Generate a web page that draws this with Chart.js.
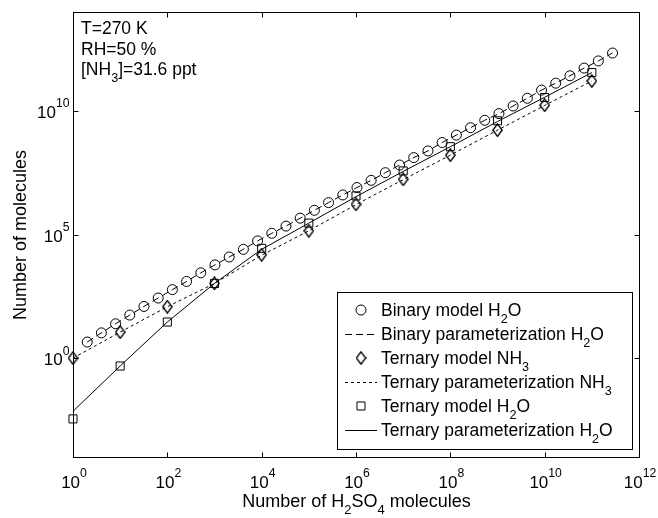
<!DOCTYPE html>
<html>
<head>
<meta charset="utf-8">
<title>Cluster composition</title>
<script src="https://cdn.jsdelivr.net/npm/chart.js@4.4.1/dist/chart.umd.min.js"></script>
<style>
  html, body { margin: 0; padding: 0; background: #fff; }
  #wrap { width: 658px; height: 518px; }
</style>
</head>
<body>
<div id="wrap"><canvas id="clusterChart" width="658" height="518"></canvas></div>
<script>
// values
const binaryX = [2, 4, 8, 16, 32, 64, 128, 256, 512, 1024, 2048, 4096, 8192, 16384, 32768,
    65536, 131072, 262144, 524288, 1048576, 2097152, 4194304, 8388608, 16777216, 33554432,
    67108864, 134217728, 268435456, 536870912, 1073741824, 2147483648, 4294967296,
    8589934592, 17179869184, 34359738368, 68719476736, 137438953472, 274877906944];
const binaryModelH2O = [4.47, 10.5, 24.5, 55, 123, 269, 589, 1.26e3, 2.82e3, 5.89e3, 1.23e4,
    2.51e4, 5.5e4, 1.12e5, 2.19e5, 4.57e5, 9.55e5, 1.95e6, 3.98e6, 7.94e6, 1.55e7, 3.16e7,
    6.46e7, 1.29e8, 2.4e8, 5.25e8, 1.05e9, 2.09e9, 4.17e9, 7.76e9, 1.58e10, 3.24e10, 6.92e10,
    1.32e11, 2.63e11, 5.37e11, 1.05e12, 2.19e12];
const binaryParamH2O = [4.47, 10.5, 24.5, 55, 123, 269, 589, 1.26e3, 2.82e3, 5.89e3, 1.23e4,
    2.51e4, 5.5e4, 1.12e5, 2.19e5, 4.57e5, 9.55e5, 1.95e6, 3.98e6, 7.94e6, 1.55e7, 3.16e7,
    6.46e7, 1.29e8, 2.4e8, 5.25e8, 1.05e9, 2.09e9, 4.17e9, 7.76e9, 1.58e10, 3.24e10, 6.92e10,
    1.32e11, 2.63e11, 5.37e11, 1.05e12, 2.19e12];

const ternaryX = [1, 10, 100, 1e3, 1e4, 1e5, 1e6, 1e7, 1e8, 1e9, 1e10, 1e11];
const ternaryModelNH3 = [1, 11.2, 120, 1.05e3, 1.51e4, 1.41e5, 1.66e6, 1.7e7, 1.62e8, 1.66e9, 1.7e10, 1.62e11];
const ternaryParamNH3 = [1, 11.2, 120, 1.05e3, 1.45e4, 1.41e5, 1.62e6, 1.66e7, 1.62e8, 1.66e9, 1.66e10, 1.62e11];
const ternaryModelH2O = [3.47e-3, 0.479, 28.8, 1.05e3, 2.75e4, 2.88e5, 3.63e6, 3.72e7, 3.55e8, 3.98e9, 3.47e10, 3.55e11];
const ternaryParamH2O = [7.08e-3, 0.479, 28.8, 1.05e3, 2.51e4, 2.88e5, 3.39e6, 3.55e7, 3.55e8, 3.72e9, 3.55e10, 3.55e11];

const xTicks = [1e0, 1e2, 1e4, 1e6, 1e8, 1e10, 1e12];
const xTickLabels = ['10^{0}', '10^{2}', '10^{4}', '10^{6}', '10^{8}', '10^{10}', '10^{12}'];
const yTicks = [1e0, 1e5, 1e10];
const yTickLabels = ['10^{0}', '10^{5}', '10^{10}'];
const infoLines = ['T=270 K', 'RH=50 %', '[NH_{3}]=31.6 ppt'];

const FONT = '"Liberation Sans", Arial, Helvetica, sans-serif';

function pairs(xs, ys) {
    return xs.map((x, i) => ({ x: x, y: ys[i] }));
}

function makeDiamond(w, h) {
    const c = document.createElement('canvas');
    c.width = w;
    c.height = h;
    const g = c.getContext('2d');
    g.strokeStyle = '#000';
    g.lineWidth = 1.4;
    g.beginPath();
    g.moveTo(w / 2, 0.8);
    g.lineTo(w - 0.8, h / 2);
    g.lineTo(w / 2, h - 0.8);
    g.lineTo(0.8, h / 2);
    g.closePath();
    g.stroke();
    return c;
}

// text with _{sub} and ^{sup} parts
function drawRich(ctx, text, x, y, size, align) {
    const parts = text.split(/(_\{[^}]*\}|\^\{[^}]*\})/).filter(s => s.length);
    const segs = parts.map(p => {
        if (p[0] === '_') return { t: p.slice(2, -1), s: size * 0.72, dy: size * 0.38 };
        if (p[0] === '^') return { t: p.slice(2, -1), s: size * 0.72, dy: -size * 0.62 };
        return { t: p, s: size, dy: 0 };
    });
    let total = 0;
    segs.forEach(seg => {
        ctx.font = seg.s + 'px ' + FONT;
        seg.w = ctx.measureText(seg.t).width;
        total += seg.w;
    });
    let cx = x;
    if (align === 'center') cx = x - total / 2;
    if (align === 'right') cx = x - total;
    ctx.textAlign = 'left';
    ctx.textBaseline = 'alphabetic';
    segs.forEach(seg => {
        ctx.font = seg.s + 'px ' + FONT;
        ctx.fillText(seg.t, cx, y + seg.dy);
        cx += seg.w;
    });
}

const framePlugin = {
    id: 'frame',
    afterDraw(chart) {
        const ctx = chart.ctx;
        const a = chart.chartArea;
        const xs = chart.scales.x;
        const ys = chart.scales.y;
        ctx.save();
        ctx.strokeStyle = '#000';
        ctx.fillStyle = '#000';
        ctx.lineWidth = 1;

        // box
        const L = Math.round(a.left) + 0.5, R = Math.round(a.right) + 0.5;
        const T = Math.round(a.top) + 0.5, B = Math.round(a.bottom) + 0.5;
        ctx.strokeRect(L, T, R - L, B - T);

        // ticks pointing inward on all four sides
        ctx.beginPath();
        xTicks.forEach(v => {
            const px = Math.round(xs.getPixelForValue(v)) + 0.5;
            ctx.moveTo(px, B); ctx.lineTo(px, B - 5);
            ctx.moveTo(px, T); ctx.lineTo(px, T + 5);
        });
        yTicks.forEach(v => {
            const py = Math.round(ys.getPixelForValue(v)) + 0.5;
            ctx.moveTo(L, py); ctx.lineTo(L + 5, py);
            ctx.moveTo(R, py); ctx.lineTo(R - 5, py);
        });
        ctx.stroke();

        xTicks.forEach((v, i) => {
            drawRich(ctx, xTickLabels[i], xs.getPixelForValue(v) + 1, B + 30, 17, 'center');
        });
        yTicks.forEach((v, i) => {
            drawRich(ctx, yTickLabels[i], L - 4, ys.getPixelForValue(v) + 7, 17, 'right');
        });

        // axis titles
        drawRich(ctx, 'Number of H_{2}SO_{4} molecules', (L + R) / 2, 507, 18, 'center');
        ctx.save();
        ctx.translate(26, (T + B) / 2);
        ctx.rotate(-Math.PI / 2);
        drawRich(ctx, 'Number of molecules', 0, 0, 18, 'center');
        ctx.restore();

        // conditions text
        infoLines.forEach((line, i) => {
            drawRich(ctx, line, 81, 34 + i * 20.5, 17.5, 'left');
        });

        // legend
        const lg = { left: 337.5, top: 292.5, right: 632.5, bottom: 449.5 };
        ctx.fillStyle = '#fff';
        ctx.fillRect(lg.left, lg.top, lg.right - lg.left, lg.bottom - lg.top);
        ctx.strokeRect(lg.left, lg.top, lg.right - lg.left, lg.bottom - lg.top);
        chart.data.datasets.forEach((ds, i) => {
            const cy = 310 + i * 24;
            if (ds.showLine) {
                ctx.save();
                ctx.setLineDash(ds.borderDash || []);
                ctx.beginPath();
                ctx.moveTo(345, cy + 0.5);
                ctx.lineTo(377, cy + 0.5);
                ctx.stroke();
                ctx.restore();
            } else {
                ctx.save();
                ctx.fillStyle = 'rgba(0,0,0,0)';
                ctx.strokeStyle = '#000';
                ctx.lineWidth = 1;
                Chart.helpers.drawPoint(ctx, {
                    pointStyle: ds.pointStyle,
                    radius: ds.pointRadius,
                    rotation: 0,
                    borderWidth: 1
                }, 361, cy);
                ctx.restore();
            }
            ctx.fillStyle = '#000';
            drawRich(ctx, ds.label, 381, cy + 6, 17.5, 'left');
        });
        ctx.restore();
    }
};

document.addEventListener('DOMContentLoaded', function () {
    const diamond = makeDiamond(11, 14);

    const marker = (style, r) => ({
        showLine: false,
        pointStyle: style,
        pointRadius: r,
        pointHoverRadius: r,
        pointBorderColor: '#000',
        pointBackgroundColor: 'rgba(0,0,0,0)',
        pointBorderWidth: 1,
        clip: false
    });
    const line = dash => ({
        showLine: true,
        borderColor: '#000',
        borderWidth: 1,
        borderDash: dash,
        pointRadius: 0,
        pointHoverRadius: 0,
        fill: false,
        clip: false
    });

    const ctx = document.getElementById('clusterChart').getContext('2d');
    new Chart(ctx, {
        type: 'scatter',
        data: {
            datasets: [
                Object.assign({ label: 'Binary model H_{2}O', data: pairs(binaryX, binaryModelH2O) }, marker('circle', 5)),
                Object.assign({ label: 'Binary parameterization H_{2}O', data: pairs(binaryX, binaryParamH2O) }, line([7, 4])),
                Object.assign({ label: 'Ternary model NH_{3}', data: pairs(ternaryX, ternaryModelNH3) }, marker(diamond, 6)),
                Object.assign({ label: 'Ternary parameterization NH_{3}', data: pairs(ternaryX, ternaryParamNH3) }, line([3, 3])),
                Object.assign({ label: 'Ternary model H_{2}O', data: pairs(ternaryX, ternaryModelH2O) }, marker('rect', 5.7)),
                Object.assign({ label: 'Ternary parameterization H_{2}O', data: pairs(ternaryX, ternaryParamH2O) }, line([]))
            ]
        },
        options: {
            responsive: false,
            animation: false,
            events: [],
            layout: { padding: { left: 73, right: 19, top: 12, bottom: 61 } },
            plugins: {
                legend: { display: false },
                tooltip: { enabled: false }
            },
            scales: {
                x: { type: 'logarithmic', min: 1, max: 1e12, display: false },
                y: { type: 'logarithmic', min: 1e-4, max: 1e14, display: false }
            }
        },
        plugins: [framePlugin]
    });
});
</script>
</body>
</html>
